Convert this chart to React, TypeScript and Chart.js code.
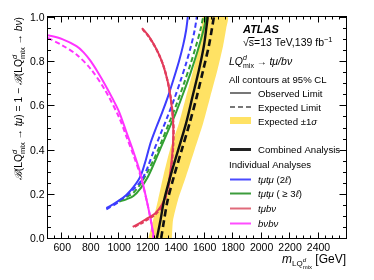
import React, { useEffect, useRef } from 'react';
import { Chart, registerables } from 'chart.js';
Chart.register(...registerables);

const FONT = '"Liberation Sans", Arial, Helvetica, sans-serif';

// axis ticks
const xTickValues = [600, 800, 1000, 1200, 1400, 1600, 1800, 2000, 2200, 2400];
const yTickValues = [0, 0.2, 0.4, 0.6, 0.8, 1.0];
const yTickLabels = ['0.0', '0.2', '0.4', '0.6', '0.8', '1.0'];

// b nu b nu
const magObsM = [500, 600, 700, 750, 800, 850, 900, 950, 1000, 1050, 1100, 1150, 1200, 1225, 1245];
const magObsB = [0.918, 0.9, 0.868, 0.84, 0.8, 0.75, 0.695, 0.635, 0.57, 0.48, 0.39, 0.29, 0.15, 0.07, 0.0];
const magExpM = [500, 600, 700, 800, 900, 1000, 1050, 1100, 1150, 1200, 1225, 1240];
const magExpB = [0.905, 0.872, 0.83, 0.765, 0.67, 0.545, 0.46, 0.375, 0.28, 0.15, 0.07, 0.0];

// t mu b nu
const redObsM = [1160, 1200, 1240, 1280, 1310, 1340, 1360, 1373, 1380, 1378, 1370, 1355, 1335, 1300, 1250, 1200, 1150, 1095];
const redObsB = [0.95, 0.92, 0.88, 0.83, 0.78, 0.71, 0.64, 0.57, 0.5, 0.43, 0.36, 0.28, 0.21, 0.15, 0.11, 0.09, 0.07, 0.05];
const redExpM = [1163, 1203, 1243, 1283, 1313, 1342, 1362, 1375, 1382, 1380, 1372, 1357, 1337, 1302, 1252, 1202, 1152, 1098];
const redExpB = [0.945, 0.915, 0.875, 0.825, 0.775, 0.705, 0.635, 0.565, 0.495, 0.425, 0.355, 0.275, 0.205, 0.145, 0.105, 0.085, 0.065, 0.048];

// t mu t mu (2l)
const blueObsM = [910, 950, 1000, 1050, 1100, 1150, 1190, 1220, 1260, 1300, 1340, 1380, 1420, 1450, 1470, 1482];
const blueObsB = [0.135, 0.15, 0.17, 0.195, 0.23, 0.28, 0.36, 0.43, 0.5, 0.565, 0.635, 0.715, 0.8, 0.875, 0.94, 1.0];
const blueExpM = [910, 1000, 1100, 1160, 1200, 1240, 1290, 1340, 1390, 1430, 1470, 1505, 1530, 1545];
const blueExpB = [0.13, 0.165, 0.22, 0.265, 0.32, 0.39, 0.47, 0.55, 0.635, 0.71, 0.79, 0.87, 0.94, 1.0];

// t mu t mu (>=3l)
const greenObsM = [1000, 1050, 1100, 1150, 1200, 1250, 1300, 1350, 1400, 1450, 1500, 1550, 1590, 1612];
const greenObsB = [0.165, 0.175, 0.19, 0.225, 0.275, 0.345, 0.42, 0.495, 0.57, 0.655, 0.745, 0.845, 0.935, 1.0];
const greenExpM = [1000, 1050, 1100, 1150, 1200, 1250, 1300, 1350, 1400, 1450, 1500, 1540, 1570, 1590];
const greenExpB = [0.17, 0.185, 0.205, 0.245, 0.3, 0.365, 0.44, 0.52, 0.6, 0.69, 0.785, 0.87, 0.94, 1.0];

// combined
const combB = [0, 0.08, 0.17, 0.28, 0.4, 0.52, 0.64, 0.76, 0.87, 0.95, 1.0];
const combObsM = [1265, 1290, 1315, 1360, 1415, 1470, 1515, 1560, 1595, 1612, 1622];
const combExpM = [1295, 1315, 1340, 1385, 1440, 1495, 1545, 1590, 1630, 1652, 1665];
const bandLowM = [1205, 1238, 1272, 1310, 1357, 1420, 1470, 1520, 1560, 1580, 1588];
const bandHighM = [1370, 1378, 1412, 1470, 1530, 1590, 1640, 1690, 1730, 1752, 1762];

const BLUE = '#3c3cff';
const GREEN = '#33a033';
const RED = '#e23c5c';
const MAGENTA = '#ff33ff';
const YELLOW = 'rgb(255,226,100)';

const pts = (ms: number[], bs: number[]) => ms.map((m, i) => ({ x: m, y: bs[i] }));

type Part = { t: string; s: number; st?: string; dy?: number };
type Item = Part | { up: Part; dn: Part };

function setFont(ctx: CanvasRenderingContext2D, p: Part) {
  ctx.font = `${p.st || ''} ${p.s}px ${FONT}`;
}
function richWidth(ctx: CanvasRenderingContext2D, items: Item[]) {
  let w = 0;
  for (const it of items) {
    if ('up' in it) {
      setFont(ctx, it.up);
      const a = ctx.measureText(it.up.t).width;
      setFont(ctx, it.dn);
      const b = ctx.measureText(it.dn.t).width;
      w += Math.max(a, b);
    } else {
      setFont(ctx, it);
      w += ctx.measureText(it.t).width;
    }
  }
  return w;
}
function drawRich(ctx: CanvasRenderingContext2D, x: number, y: number, items: Item[]) {
  for (const it of items) {
    if ('up' in it) {
      setFont(ctx, it.up);
      const a = ctx.measureText(it.up.t).width;
      ctx.fillText(it.up.t, x, y + (it.up.dy || 0));
      setFont(ctx, it.dn);
      const b = ctx.measureText(it.dn.t).width;
      ctx.fillText(it.dn.t, x, y + (it.dn.dy || 0));
      x += Math.max(a, b);
    } else {
      setFont(ctx, it);
      ctx.fillText(it.t, x, y + (it.dy || 0));
      x += ctx.measureText(it.t).width;
    }
  }
  return x;
}

export default function App() {
  const ref = useRef<HTMLCanvasElement>(null);
  useEffect(() => {
    document.body.style.margin = '0';
    const canvas = ref.current!;
    const overlay = {
      id: 'atlasOverlay',
      afterDraw(chart: any) {
        const ctx: CanvasRenderingContext2D = chart.ctx;
        const xs = chart.scales.x;
        const ys = chart.scales.y;
        const { left, right, top, bottom } = chart.chartArea;
        ctx.save();
        ctx.fillStyle = '#000';
        ctx.strokeStyle = '#000';
        ctx.lineWidth = 1;
        const L = Math.round(left) - 0.5, R = Math.round(right) - 0.5;
        const T = Math.round(top) - 0.5, B = Math.round(bottom) + 0.5;
        ctx.strokeRect(L, T, R - L, B - T);
        // x ticks
        ctx.beginPath();
        for (let v = 500; v <= 2600; v += 50) {
          const px = Math.round(xs.getPixelForValue(v)) - 0.5;
          const len = v % 200 === 0 ? 6 : 3;
          ctx.moveTo(px, B); ctx.lineTo(px, B - len);
          ctx.moveTo(px, T); ctx.lineTo(px, T + len);
        }
        for (let i = 0; i <= 20; i++) {
          const py = Math.round(ys.getPixelForValue(i * 0.05)) + 0.5;
          const len = i % 4 === 0 ? 7 : 3.5;
          ctx.moveTo(L, py); ctx.lineTo(L + len, py);
          ctx.moveTo(R, py); ctx.lineTo(R - len, py);
        }
        ctx.stroke();
        // tick labels
        ctx.font = `10.5px ${FONT}`;
        ctx.textAlign = 'center';
        ctx.textBaseline = 'alphabetic';
        xTickValues.forEach((v) => ctx.fillText(String(v), xs.getPixelForValue(v), 251));
        ctx.textAlign = 'right';
        yTickValues.forEach((v, i) => ctx.fillText(yTickLabels[i], 44.5, ys.getPixelForValue(v) + 4));
        ctx.textAlign = 'left';

        // x title
        const xt: Item[] = [
          { t: 'm', s: 12, st: 'italic' },
          { t: 'LQ', s: 8, dy: 3 },
          { up: { t: 'd', s: 6, st: 'italic', dy: -1 }, dn: { t: 'mix', s: 6, dy: 6 } },
          { t: ' [GeV]', s: 12 },
        ];
        const xw = richWidth(ctx, xt);
        drawRich(ctx, 346 - xw, 263, xt);

        // y title (rotated)
        const ys1 = 10.3, ys2 = 7.5;
        const yt: Item[] = [
          { t: 'ℬ', s: ys1, st: 'italic' },
          { t: '(LQ', s: ys1 },
          { up: { t: 'd', s: ys2, st: 'italic', dy: -5 }, dn: { t: 'mix', s: ys2, dy: 3 } },
          { t: ' → ', s: ys1 },
          { t: 'tμ', s: ys1, st: 'italic' },
          { t: ') = 1 − ', s: ys1 },
          { t: 'ℬ', s: ys1, st: 'italic' },
          { t: '(LQ', s: ys1 },
          { up: { t: 'd', s: ys2, st: 'italic', dy: -5 }, dn: { t: 'mix', s: ys2, dy: 3 } },
          { t: ' → ', s: ys1 },
          { t: 'bν', s: ys1, st: 'italic' },
          { t: ')', s: ys1 },
        ];
        const yw = richWidth(ctx, yt);
        ctx.save();
        ctx.translate(22, 17 + yw);
        ctx.rotate(-Math.PI / 2);
        drawRich(ctx, 0, 0, yt);
        ctx.restore();

        // ATLAS label block
        ctx.font = `italic bold 11px ${FONT}`;
        ctx.fillText('ATLAS', 243, 33);
        let x = drawRich(ctx, 243, 46, [{ t: '√', s: 10.5 }]);
        setFont(ctx, { t: 's', s: 10.5 });
        const sw = ctx.measureText('s').width;
        ctx.fillText('s', x, 46);
        ctx.beginPath();
        ctx.moveTo(x - 0.5, 37.5); ctx.lineTo(x + sw + 0.5, 37.5); ctx.stroke();
        x = drawRich(ctx, x + sw, 46, [{ t: '=13 TeV,139 fb', s: 10.5 }, { t: '−1', s: 7.5, dy: -4 }]);

        drawRich(ctx, 229, 65, [
          { t: 'LQ', s: 10.5, st: 'italic' },
          { up: { t: 'd', s: 7, st: 'italic', dy: -5 }, dn: { t: 'mix', s: 7, dy: 3 } },
          { t: ' → ', s: 10 },
          { t: 'tμ/bν', s: 10.5, st: 'italic' },
        ]);
        ctx.font = `9.6px ${FONT}`;
        ctx.fillText('All contours at 95% CL', 229, 83);

        // legend entries
        const lx0 = 230, lx1 = 251, tx = 258;
        const line = (y: number, color: string, w: number, dash: number[]) => {
          ctx.save();
          ctx.strokeStyle = color; ctx.lineWidth = w; ctx.setLineDash(dash);
          ctx.beginPath(); ctx.moveTo(lx0, y); ctx.lineTo(lx1, y); ctx.stroke();
          ctx.restore();
        };
        line(93, '#777', 2, []);
        line(107, '#777', 2, [5, 3]);
        ctx.fillStyle = YELLOW;
        ctx.fillRect(lx0, 117, lx1 - lx0, 7);
        ctx.fillStyle = '#000';
        ctx.font = `9.6px ${FONT}`;
        ctx.fillText('Observed Limit', tx, 96.5);
        ctx.fillText('Expected Limit', tx, 110.5);
        drawRich(ctx, tx, 124.5, [{ t: 'Expected ±1', s: 9.6 }, { t: 'σ', s: 9.6, st: 'italic' }]);
        line(149.5, '#222', 3, []);
        ctx.font = `9.6px ${FONT}`;
        ctx.fillText('Combined Analysis', tx, 153);
        ctx.fillText('Individual Analyses', 229, 168);
        line(179.5, '#4a4aff', 2, []);
        drawRich(ctx, tx, 183, [{ t: 'tμtμ', s: 9.6, st: 'italic' }, { t: ' (2', s: 9.6 }, { t: 'ℓ', s: 9.6, st: 'italic' }, { t: ')', s: 9.6 }]);
        line(193.5, '#3c9c3c', 2, []);
        drawRich(ctx, tx, 197, [{ t: 'tμtμ', s: 9.6, st: 'italic' }, { t: ' ( ≥ 3', s: 9.6 }, { t: 'ℓ', s: 9.6, st: 'italic' }, { t: ')', s: 9.6 }]);
        line(208.5, '#e06a7a', 2, []);
        drawRich(ctx, tx, 212, [{ t: 'tμbν', s: 9.6, st: 'italic' }]);
        line(223.5, '#ff4cff', 2, []);
        drawRich(ctx, tx, 227, [{ t: 'bνbν', s: 9.6, st: 'italic' }]);
        ctx.restore();
      },
    };

    const lineDs = (label: string, data: any[], color: string, width: number, dash: number[], order: number) => ({
      label, data, borderColor: color, backgroundColor: color, borderWidth: width, borderDash: dash,
      showLine: true, pointRadius: 0, fill: false, tension: 0.3, order,
    });

    const bandData = [...pts(bandLowM, combB), ...pts(bandHighM, combB).reverse()];

    const chart = new Chart(canvas, {
      type: 'scatter',
      data: {
        datasets: [
          { label: 'band', data: bandData, borderWidth: 0, borderColor: YELLOW, backgroundColor: YELLOW, showLine: true, pointRadius: 0, fill: 'shape', tension: 0.2, order: 20 } as any,
          lineDs('magExp', pts(magExpM, magExpB), MAGENTA, 2, [5, 3], 9),
          lineDs('magObs', pts(magObsM, magObsB), MAGENTA, 2, [], 8),
          lineDs('blueExp', pts(blueExpM, blueExpB), BLUE, 2, [5, 3], 9),
          lineDs('blueObs', pts(blueObsM, blueObsB), BLUE, 2, [], 8),
          lineDs('greenExp', pts(greenExpM, greenExpB), GREEN, 2, [5, 3], 9),
          lineDs('greenObs', pts(greenObsM, greenObsB), GREEN, 2, [], 8),
          lineDs('redExp', pts(redExpM, redExpB), RED, 2.2, [4, 2], 7),
          lineDs('redObs', pts(redObsM, redObsB), RED, 2, [], 7),
          lineDs('combExp', pts(combExpM, combB), '#111', 2.6, [7, 4], 2),
          lineDs('combObs', pts(combObsM, combB), '#111', 2.4, [], 1),
        ],
      },
      options: {
        responsive: false,
        animation: false,
        devicePixelRatio: 1,
        layout: { padding: { left: 48, right: 27, top: 17, bottom: 42 } },
        scales: {
          x: { type: 'linear', min: 500, max: 2600, display: false },
          y: { type: 'linear', min: 0, max: 1, display: false },
        },
        plugins: { legend: { display: false }, tooltip: { enabled: false } },
      },
      plugins: [overlay],
    } as any);
    return () => chart.destroy();
  }, []);
  return <canvas ref={ref} width={374} height={280} style={{ display: 'block' }} />;
}
